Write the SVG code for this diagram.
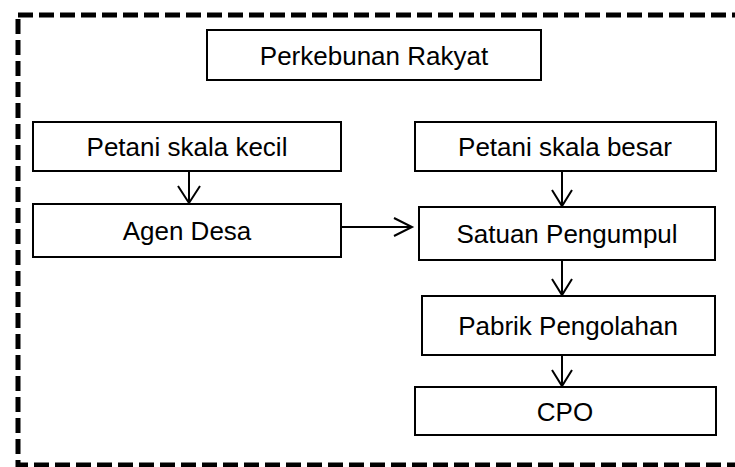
<svg xmlns="http://www.w3.org/2000/svg" width="735" height="467" viewBox="0 0 735 467">
<style>
.box{fill:#fff;stroke:#000;stroke-width:2}
.lbl{font-family:"Liberation Sans",Arial,sans-serif;font-size:26px;fill:#000;text-anchor:middle;dominant-baseline:central}
.conn{stroke:#000;stroke-width:2;fill:none}
.head{stroke:#000;stroke-width:2;fill:none}
</style>
<rect x="0" y="0" width="735" height="467" fill="#fff"/>
<rect id="border" x="18" y="15" width="725" height="450" fill="none" stroke="#000" stroke-width="5" stroke-dasharray="15 6"/>
<g id="perkebunan-rakyat"><rect class="box" x="207" y="30" width="334" height="50"/><text class="lbl" x="374" y="56">Perkebunan Rakyat</text></g>
<g id="petani-kecil"><rect class="box" x="33" y="122" width="308" height="49"/><text class="lbl" x="187" y="147">Petani skala kecil</text></g>
<g id="agen-desa"><rect class="box" x="33" y="204" width="308" height="53"/><text class="lbl" x="187" y="231">Agen Desa</text></g>
<g id="petani-besar"><rect class="box" x="415" y="122" width="301" height="49"/><text class="lbl" x="565" y="147">Petani skala besar</text></g>
<g id="satuan-pengumpul"><rect class="box" x="419" y="207" width="296" height="53"/><text class="lbl" x="567" y="234">Satuan Pengumpul</text></g>
<g id="pabrik-pengolahan"><rect class="box" x="422" y="296" width="293" height="59"/><text class="lbl" x="568" y="326">Pabrik Pengolahan</text></g>
<g id="cpo"><rect class="box" x="415" y="387" width="301" height="48"/><text class="lbl" x="565" y="412">CPO</text></g>
<g id="connectors">
<line class="conn" x1="189" y1="171" x2="189" y2="203"/><polyline class="head" points="178,186 189,203 200,186"/>
<line class="conn" x1="341" y1="227" x2="412" y2="227"/><polyline class="head" points="394,218 412,227 394,236"/>
<line class="conn" x1="562" y1="171" x2="562" y2="206"/><polyline class="head" points="552,190 562,206 572,190"/>
<line class="conn" x1="562" y1="260" x2="562" y2="295"/><polyline class="head" points="552,279 562,295 572,279"/>
<line class="conn" x1="562" y1="355" x2="562" y2="386"/><polyline class="head" points="552,370 562,386 572,370"/>
</g>
</svg>
